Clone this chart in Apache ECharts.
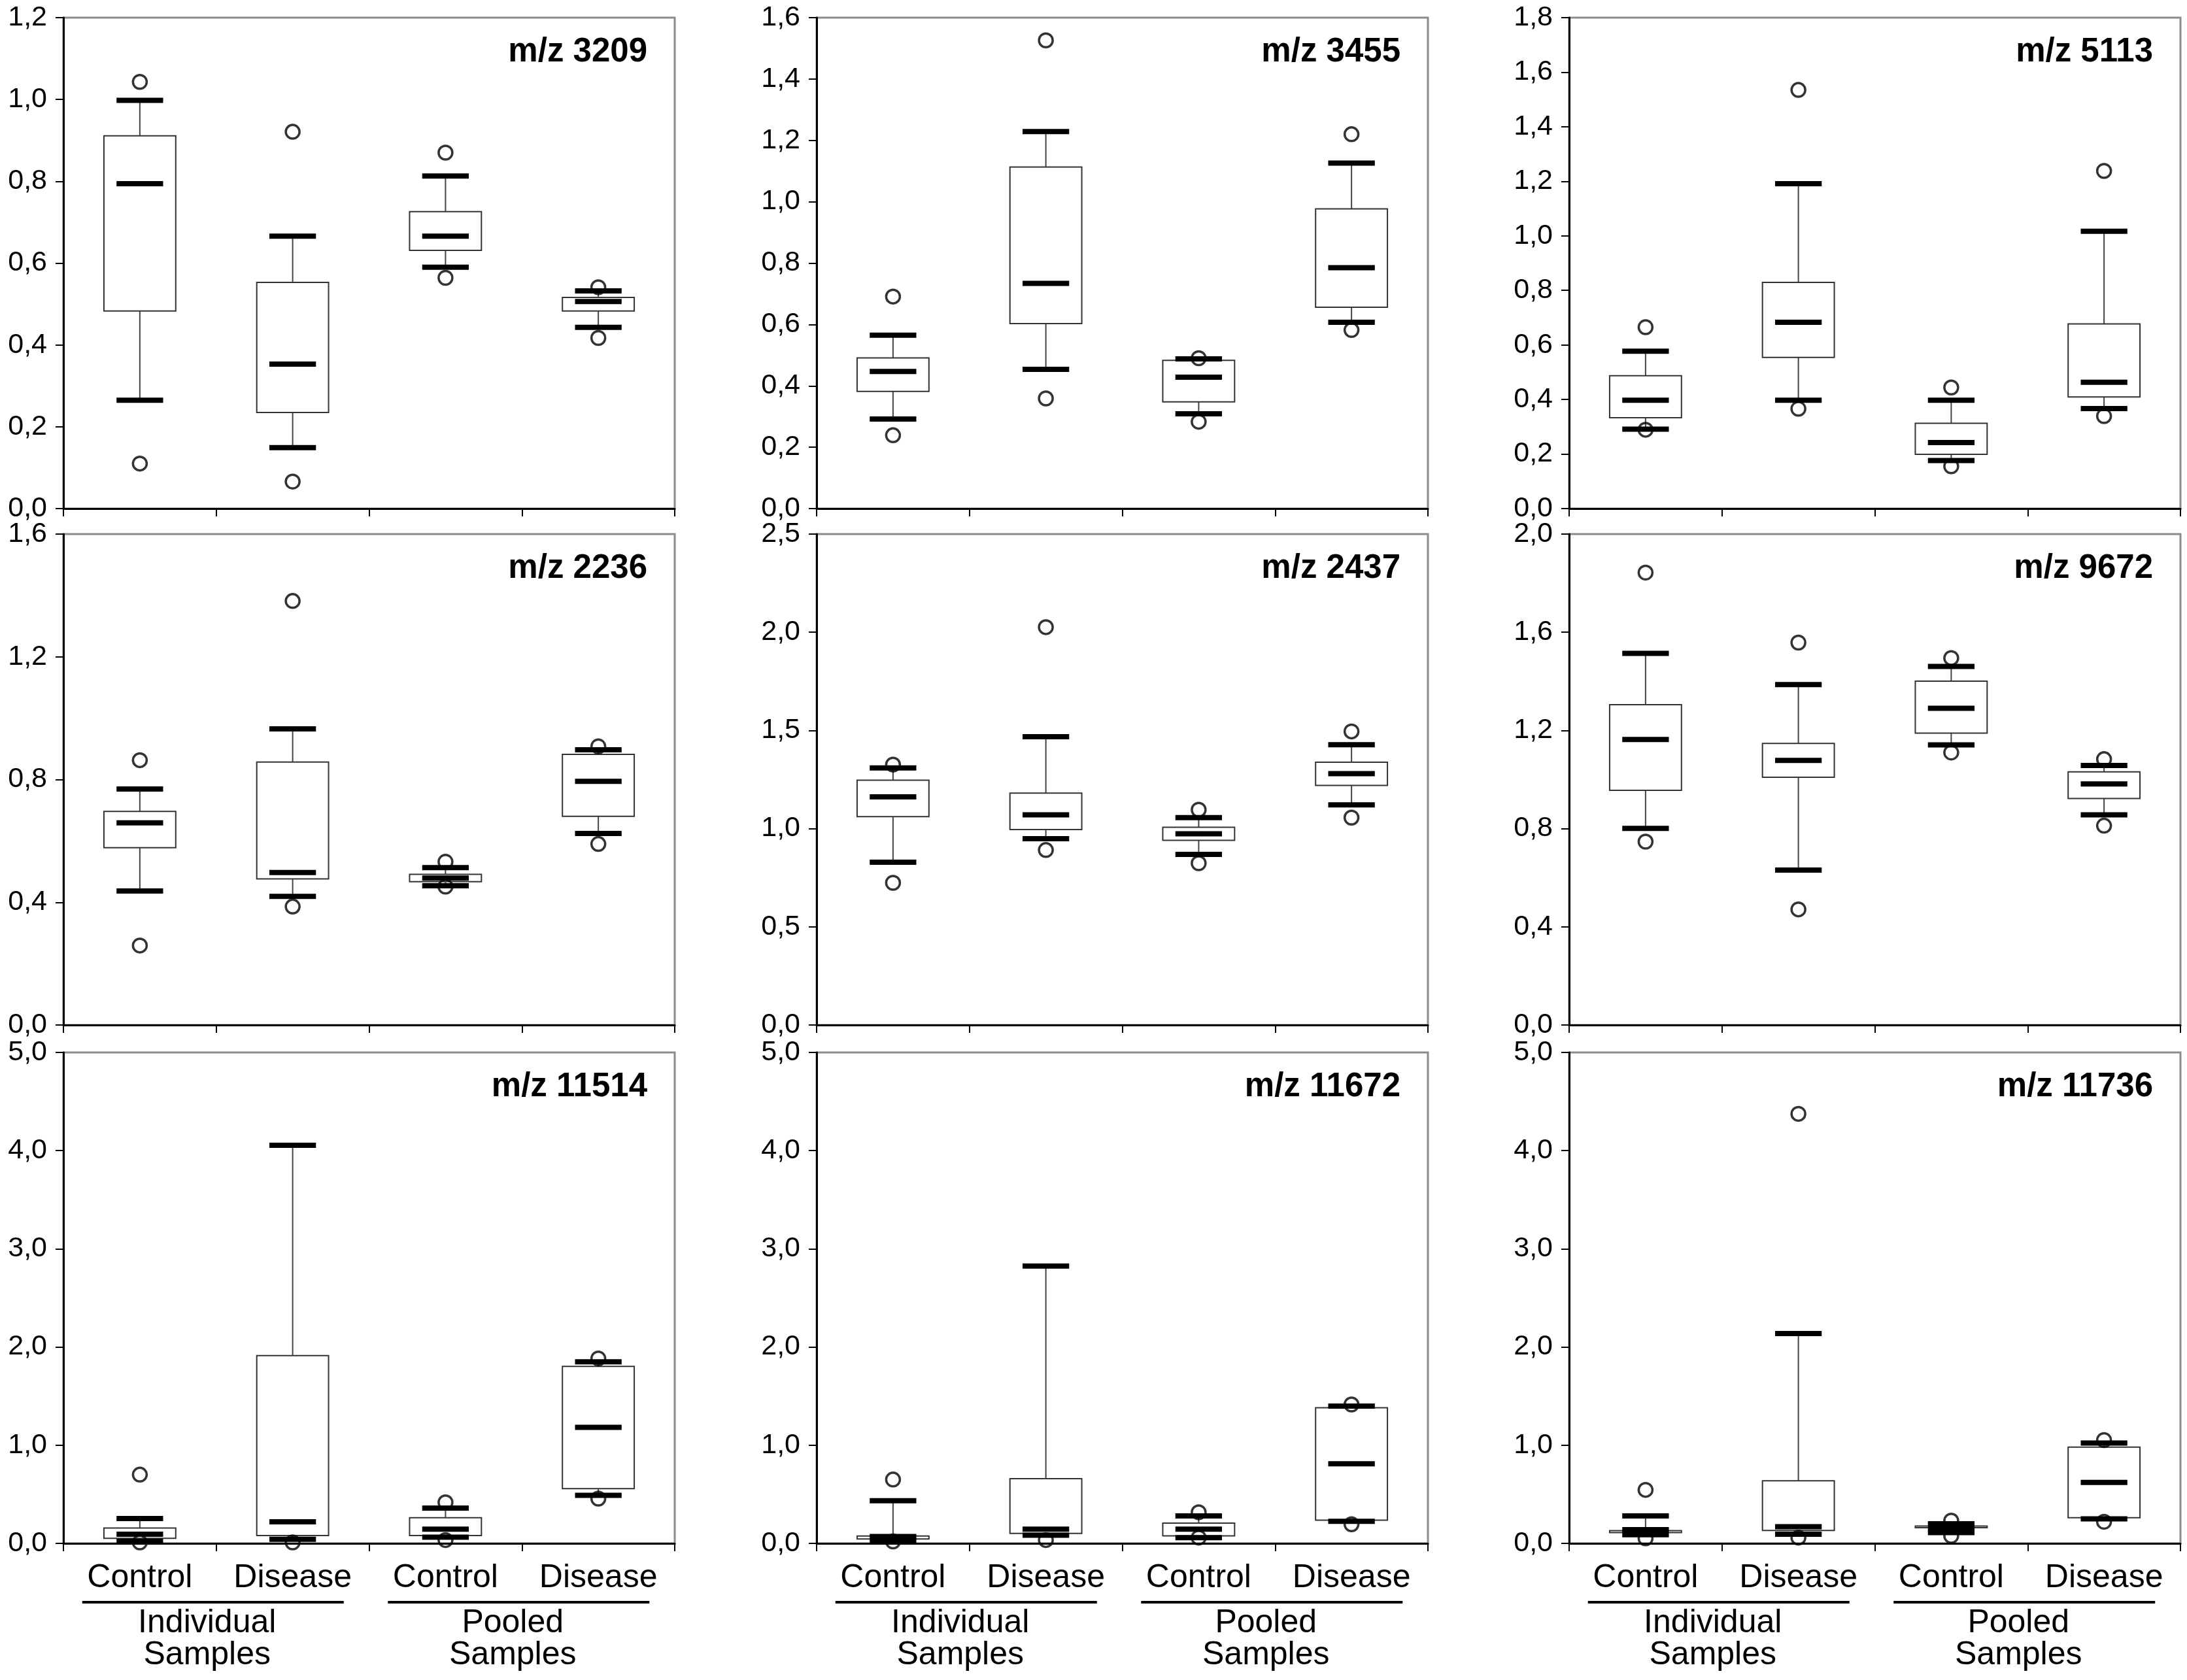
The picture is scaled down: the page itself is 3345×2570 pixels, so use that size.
<!DOCTYPE html>
<html>
<head>
<meta charset="utf-8">
<title>m/z box plots</title>
<script src="https://cdn.jsdelivr.net/npm/echarts@6/dist/echarts.min.js"></script>
<style>
  html, body { margin: 0; padding: 0; background: #fff; }
  #main { width: 3345px; height: 2570px; }
</style>
</head>
<body>
<div id="main"></div>
<script>
// categories and panel labels
var categories = ['Control', 'Disease', 'Control', 'Disease'];
var groupLabels = ['Individual\nSamples', 'Pooled\nSamples'];
var titles = ['m/z 3209', 'm/z 3455', 'm/z 5113', 'm/z 2236', 'm/z 2437', 'm/z 9672', 'm/z 11514', 'm/z 11672', 'm/z 11736'];
var yMax = [1.2, 1.6, 1.8, 1.6, 2.5, 2.0, 5, 5, 5];
var yStep = [0.2, 0.2, 0.2, 0.4, 0.5, 0.4, 1, 1, 1];

// one row per category: [low circle, low cap, q1, median, q3, high cap, high circle]
var mz3209 = [
  [0.11, 0.265, 0.483, 0.794, 0.911, 0.998, 1.043],
  [0.066, 0.149, 0.235, 0.353, 0.553, 0.666, 0.921],
  [0.564, 0.59, 0.631, 0.666, 0.726, 0.813, 0.87],
  [0.417, 0.443, 0.483, 0.506, 0.516, 0.532, 0.541]
];
var mz3455 = [
  [0.239, 0.292, 0.382, 0.447, 0.491, 0.565, 0.691],
  [0.359, 0.454, 0.603, 0.734, 1.113, 1.229, 1.526],
  [0.283, 0.309, 0.348, 0.428, 0.483, 0.488, 0.49],
  [0.582, 0.607, 0.656, 0.785, 0.977, 1.126, 1.22]
];
var mz5113 = [
  [0.289, 0.291, 0.333, 0.397, 0.487, 0.577, 0.665],
  [0.366, 0.397, 0.554, 0.683, 0.829, 1.191, 1.535],
  [0.155, 0.176, 0.199, 0.242, 0.313, 0.397, 0.444],
  [0.339, 0.367, 0.409, 0.463, 0.677, 1.017, 1.238]
];
var mz2236 = [
  [0.259, 0.437, 0.578, 0.659, 0.696, 0.769, 0.863],
  [0.386, 0.419, 0.476, 0.497, 0.857, 0.965, 1.382],
  [0.451, 0.454, 0.467, 0.479, 0.491, 0.513, 0.532],
  [0.59, 0.624, 0.68, 0.794, 0.882, 0.897, 0.908]
];
var mz2437 = [
  [0.724, 0.829, 1.061, 1.162, 1.247, 1.309, 1.326],
  [0.891, 0.949, 0.995, 1.07, 1.181, 1.468, 2.026],
  [0.824, 0.869, 0.94, 0.974, 1.007, 1.056, 1.096],
  [1.056, 1.121, 1.22, 1.28, 1.338, 1.427, 1.495]
];
var mz9672 = [
  [0.747, 0.801, 0.956, 1.163, 1.305, 1.514, 1.843],
  [0.471, 0.631, 1.009, 1.078, 1.147, 1.387, 1.558],
  [1.11, 1.141, 1.189, 1.29, 1.401, 1.461, 1.495],
  [0.812, 0.856, 0.923, 0.982, 1.031, 1.057, 1.083]
];
var mz11514 = [
  [0.01, 0.02, 0.051, 0.093, 0.156, 0.253, 0.70],
  [0.01, 0.042, 0.08, 0.22, 1.913, 4.054, null],
  [0.034, 0.063, 0.08, 0.144, 0.262, 0.359, 0.418],
  [0.456, 0.49, 0.557, 1.182, 1.803, 1.85, 1.883]
];
var mz11672 = [
  [0.02, 0.03, 0.045, 0.07, 0.075, 0.435, 0.65],
  [0.034, 0.084, 0.101, 0.144, 0.659, 2.825, null],
  [0.059, 0.059, 0.076, 0.144, 0.207, 0.279, 0.317],
  [0.194, 0.224, 0.236, 0.811, 1.381, 1.398, 1.415]
];
var mz11736 = [
  [0.051, 0.089, 0.11, 0.14, 0.13, 0.279, 0.545],
  [0.059, 0.093, 0.131, 0.169, 0.638, 2.137, 4.375],
  [0.076, 0.11, 0.16, 0.15, 0.177, 0.20, 0.232],
  [0.22, 0.249, 0.262, 0.621, 0.98, 1.022, 1.052]
];
var stats = [mz3209, mz3455, mz5113, mz2236, mz2437, mz9672, mz11514, mz11672, mz11736];

var FONT = '"Liberation Sans", Arial, Helvetica, sans-serif';
var pageW = 3345;
var gridLeft = [97, 1249, 2400];
var gridTop = [27, 817, 1610];
var gw = 935, gh = 751;

var chart = echarts.init(document.getElementById('main'));

function fmt(v) {
  return v.toFixed(1).replace('.', ',');
}

// box, whiskers, 10/90 caps and median bar
function renderBox(params, api) {
  var x = api.value(0);
  var cat = api.size([1, 0])[0];
  var bw = cat * 0.47, cw = cat * 0.305, bar = 8;
  var cx = api.coord([x, 0])[0];
  var yLowCap = api.coord([x, api.value(2)])[1];
  var yQ1 = api.coord([x, api.value(3)])[1];
  var yMed = api.coord([x, api.value(4)])[1];
  var yQ3 = api.coord([x, api.value(5)])[1];
  var yHighCap = api.coord([x, api.value(6)])[1];
  var bTop = Math.min(yQ1, yQ3), bBot = Math.max(yQ1, yQ3);
  var thin = { stroke: '#444', lineWidth: 2 };
  return {
    type: 'group',
    children: [
      { type: 'line', shape: { x1: cx, y1: bTop, x2: cx, y2: yHighCap }, style: thin },
      { type: 'line', shape: { x1: cx, y1: bBot, x2: cx, y2: yLowCap }, style: thin },
      { type: 'rect', shape: { x: cx - bw / 2, y: bTop, width: bw, height: Math.max(bBot - bTop, 1) },
        style: { fill: '#fff', stroke: '#333', lineWidth: 2 } },
      { type: 'rect', shape: { x: cx - cw / 2, y: yHighCap - bar / 2, width: cw, height: bar }, style: { fill: '#000' } },
      { type: 'rect', shape: { x: cx - cw / 2, y: yLowCap - bar / 2, width: cw, height: bar }, style: { fill: '#000' } },
      { type: 'rect', shape: { x: cx - cw / 2, y: yMed - bar / 2, width: cw, height: bar }, style: { fill: '#000' } }
    ]
  };
}

var grids = [], xAxes = [], yAxes = [], series = [], titleList = [], graphics = [];

for (var k = 0; k < 9; k++) {
  var row = Math.floor(k / 3), col = k % 3;
  var gx = gridLeft[col], gy = gridTop[row];
  var bottomRow = row === 2;
  grids.push({
    left: gx, top: gy, width: gw, height: gh,
    show: true, backgroundColor: '#fff', borderColor: '#8c8c8c', borderWidth: 3
  });
  xAxes.push({
    type: 'category', gridIndex: k, data: categories, boundaryGap: true,
    axisLine: { lineStyle: { color: '#000', width: 3 } },
    axisTick: { show: true, length: 12, interval: 0, lineStyle: { color: '#000', width: 2 } },
    axisLabel: { show: bottomRow, interval: 0, hideOverlap: false, color: '#000', fontSize: 50, fontFamily: FONT, margin: 28 },
    splitLine: { show: false }
  });
  yAxes.push({
    type: 'value', gridIndex: k, min: 0, max: yMax[k], interval: yStep[k],
    axisLine: { show: true, lineStyle: { color: '#000', width: 3 } },
    axisTick: { show: true, length: 12, lineStyle: { color: '#000', width: 2 } },
    axisLabel: { color: '#000', fontSize: 43, fontFamily: FONT, margin: 25, formatter: fmt },
    splitLine: { show: false }
  });
  var s = stats[k];
  series.push({
    type: 'custom', xAxisIndex: k, yAxisIndex: k,
    renderItem: renderBox,
    encode: { x: 0, y: [1, 2, 3, 4, 5, 6, 7] },
    data: s.map(function (r, i) { return [i].concat(r.map(function (v) { return v === null ? '-' : v; })); }),
    z: 2
  });
  var pts = [];
  s.forEach(function (r, i) {
    if (r[0] !== null) pts.push([i, r[0]]);
    if (r[6] !== null) pts.push([i, r[6]]);
  });
  series.push({
    type: 'scatter', xAxisIndex: k, yAxisIndex: k, data: pts,
    symbol: 'circle', symbolSize: 21,
    itemStyle: { color: 'rgba(0,0,0,0)', borderColor: '#000', borderWidth: 3.5 },
    z: 3
  });
  titleList.push({
    text: titles[k], right: pageW - (gx + gw - 42), top: gy + 27, padding: 0,
    textStyle: { fontSize: 51, fontWeight: 'bold', color: '#000', fontFamily: FONT }
  });
  if (bottomRow) {
    var catW = gw / 4;
    for (var g = 0; g < 2; g++) {
      var mid = gx + catW * (2 * g + 1);
      graphics.push({
        type: 'rect', shape: { x: mid - 205, y: 2449, width: 400, height: 4 }, style: { fill: '#000' }
      });
      graphics.push({
        type: 'text', x: mid - 14, y: 2459,
        style: {
          text: groupLabels[g], fill: '#000', fontSize: 50, fontFamily: FONT, lineHeight: 49,
          align: 'center', verticalAlign: 'top'
        }
      });
    }
  }
}

chart.setOption({
  animation: false,
  backgroundColor: '#fff',
  title: titleList,
  grid: grids,
  xAxis: xAxes,
  yAxis: yAxes,
  series: series,
  graphic: graphics
});
</script>
</body>
</html>
